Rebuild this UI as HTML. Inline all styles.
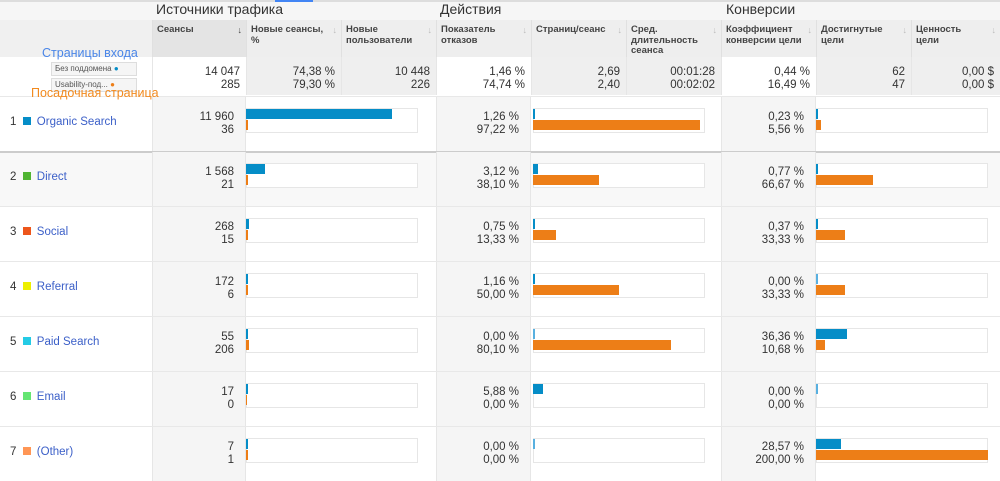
<!DOCTYPE html>
<html><head><meta charset="utf-8"><style>
body{margin:0;width:1000px;height:466px;overflow:hidden;background:#fff;font-family:"Liberation Sans","Noto Sans CJK SC",sans-serif;position:relative}
div{box-sizing:border-box}
.a{position:absolute}
.num{position:absolute;text-align:right;font-size:11.5px;line-height:13px;color:#333}
.hd{position:absolute;font-size:9.5px;font-weight:bold;color:#444;line-height:10.5px;padding:5px 14px 0 4px}
.arr{position:absolute;right:4px;top:5px;font-size:9px;color:#bbb}
.grp{position:absolute;top:1px;font-size:14px;color:#333}
</style></head><body>
<div class="a" style="left:0;top:0;width:1000px;height:20px;background:#f6f6f6;border-top:2px solid #ddd"></div>
<div class="a" style="left:275px;top:0;width:38px;height:2px;background:#4285f4"></div>
<div class="grp" style="left:156px">Источники трафика</div>
<div class="grp" style="left:440px">Действия</div>
<div class="grp" style="left:726px">Конверсии</div>
<div class="a" style="left:0;top:20px;width:152px;height:37px;background:#f0f0f0"></div>
<div id="tbl"></div>
<div class="a" style="left:42px;top:46px;font-size:12.5px;color:#4a86e8">Страницы входа</div>
<div class="a" style="left:51px;top:62px;width:86px;height:14px;background:#f5f5f5;border:1px solid #ddd;font-size:8px;color:#555;padding:1px 3px">Без поддомена <span style="color:#058dc7">●</span></div>
<div class="a" style="left:51px;top:78px;width:86px;height:14px;background:#f5f5f5;border:1px solid #ddd;font-size:8px;color:#555;padding:1px 3px">Usability-под... <span style="color:#ed7e17">●</span></div>
<div class="a" style="left:31px;top:86px;font-size:12.5px;color:#f28a1e">Посадочная страница</div>
<script>
const channels=["Organic Search","Direct","Social","Referral","Paid Search","Email","(Other)"];
const chColors=["#058dc7","#50b432","#ed561b","#edef00","#24cbe5","#64e572","#ff9655"];
const sessA=[11960,1568,268,172,55,17,7];
const sessB=[36,21,15,6,206,0,1];
const sessLblA=["11 960","1 568","268","172","55","17","7"];
const bounceA=[1.26,3.12,0.75,1.16,0,5.88,0];
const bounceB=[97.22,38.10,13.33,50.00,80.10,0,0];
const convA=[0.23,0.77,0.37,0,36.36,0,28.57];
const convB=[5.56,66.67,33.33,33.33,10.68,0,200];
const headers=["Сеансы","Новые сеансы, %","Новые пользователи","Показатель отказов","Страниц/сеанс","Сред. длительность сеанса","Коэффициент конверсии цели","Достигнутые цели","Ценность цели"];
const totA=["14 047","74,38 %","10 448","1,46 %","2,69","00:01:28","0,44 %","62","0,00 $"];
const totB=["285","79,30 %","226","74,74 %","2,40","00:02:02","16,49 %","47","0,00 $"];
const colX=[152,246,341,436,531,626,721,816,911,1000];
const sessMax=14047,bounceMax=100,convMax=200,barW=172;
const fmt=v=>v.toFixed(2).replace('.',',')+' %';
const T=document.getElementById('tbl');
function mk(cls,css,html){const d=document.createElement('div');d.className=cls;d.style.cssText=css;if(html!==undefined)d.innerHTML=html;T.appendChild(d);return d;}
for(let i=0;i<9;i++){
 const h=mk('hd',`left:${colX[i]}px;top:20px;width:${colX[i+1]-colX[i]}px;height:37px;background:${i==0?'#e4e4e4':'#eeeeee'};border-left:1px solid #e0e0e0`,headers[i]+`<span class="arr" style="color:${i==0?'#444':'#bbb'}">↓</span>`);
 
 
 const gray=[1,2,4,5,7,8].includes(i);
 const t=mk('num',`left:${colX[i]}px;top:57px;width:${colX[i+1]-colX[i]}px;height:38px;background:${gray?'#efefef':'#fff'};border-left:1px solid #e6e6e6;padding:9px 6px 0 0`,totA[i]+'<br>'+totB[i]);
 
 
}
function bar(x,y,va,vb,max,row){
 const b=mk('a',`left:${x}px;top:${y}px;width:${barW}px;height:25px;border:1px solid #e6e6e6;background:#fff`);
 
 
 const wa=Math.max(2,barW*va/max),wb=Math.max(2,barW*vb/max);
 const ba=mk('a',`left:${x}px;top:${y+1}px;width:${va>0?wa:2}px;height:10px;background:${va>0?'#058dc7':'#58b0e0'}`);
 
 
 if(!(vb===0&&va===0&&max!==sessMax)){const bb=mk('a',`left:${x}px;top:${y+12}px;width:${vb>0?wb:(max===sessMax?1:0)}px;height:10px;background:#ed7e17`);
 
 }
}
for(let r=0;r<channels.length;r++){
 const y=96+r*55;
 const row=mk('a',`left:0;top:${y}px;width:1000px;height:55px;background:${r==1?'#f8f8f8':'#fff'};border-top:${r==1?'2px solid #ccc':'1px solid #e8e8e8'}`);
 
 
 for(const [x,w] of [[152,94],[436,95],[721,95]]){const c=mk('a',`left:${x}px;top:${y+1}px;width:${w}px;height:54px;background:#f5f5f5;border-left:1px solid #e6e6e6;border-right:1px solid #e6e6e6`);}
 const lab=mk('a',`left:10px;top:${y+20}px;font-size:11.5px;color:#333;white-space:nowrap`,`${r+1}&nbsp;&nbsp;<span style="display:inline-block;width:8px;height:8px;background:${chColors[r]};margin-right:6px"></span><span style="color:#3b5fc8">${channels[r]}</span>`);
 
 
 const s=mk('num',`left:152px;top:${y+15}px;width:94px;padding-right:12px`,sessLblA[r]+'<br>'+sessB[r]);
 
 
 const b=mk('num',`left:436px;top:${y+15}px;width:95px;padding-right:12px`,fmt(bounceA[r])+'<br>'+fmt(bounceB[r]));
 
 
 const c=mk('num',`left:721px;top:${y+15}px;width:95px;padding-right:12px`,fmt(convA[r])+'<br>'+fmt(convB[r]));
 
 
 bar(246,y+12,sessA[r],sessB[r],sessMax,r);
 bar(533,y+12,bounceA[r],bounceB[r],bounceMax,r);
 bar(816,y+12,convA[r],convB[r],convMax,r);
}
</script>
</body></html>
